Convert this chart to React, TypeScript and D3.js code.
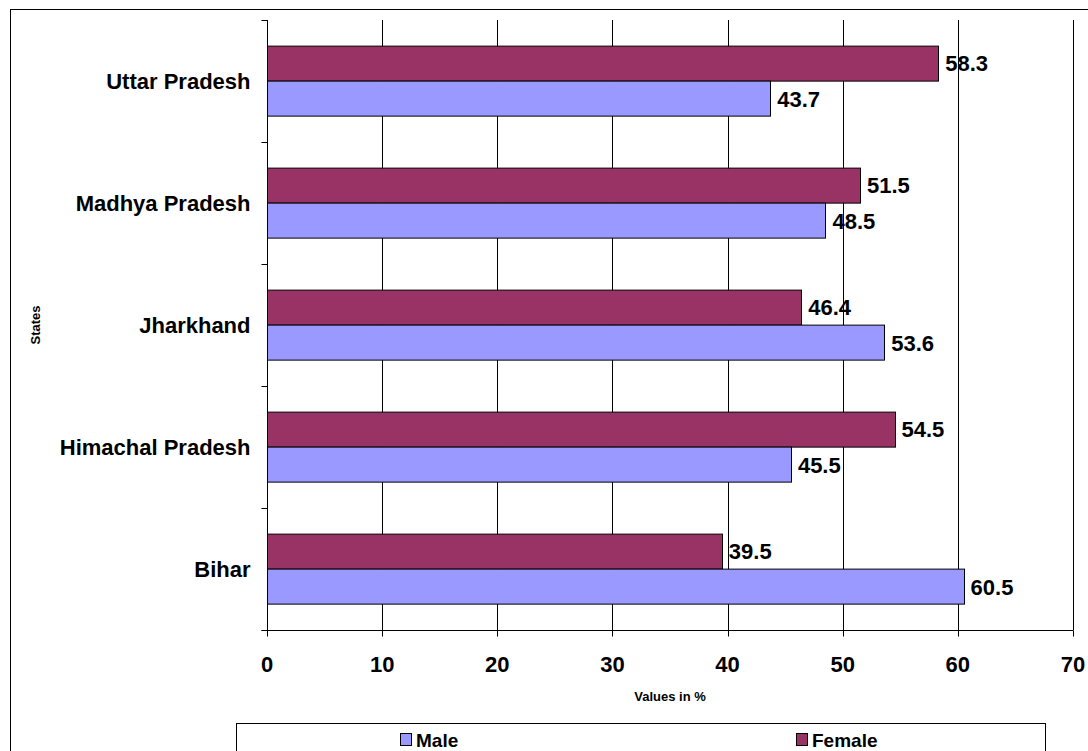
import React, { useEffect, useRef } from "react";
import * as d3 from "d3";

const states = ["Uttar Pradesh", "Madhya Pradesh", "Jharkhand", "Himachal Pradesh", "Bihar"];
const maleValues = [43.7, 48.5, 53.6, 45.5, 60.5];
const femaleValues = [58.3, 51.5, 46.4, 54.5, 39.5];
const xTicks = [0, 10, 20, 30, 40, 50, 60, 70];
const seriesNames = ["Male", "Female"];
const seriesColors = ["#9999FF", "#993366"];

const W = 1088;
const H = 751;
const FONT = "'Liberation Sans', Arial, sans-serif";

const App = () => {
  const ref = useRef(null);

  useEffect(() => {
    const svg = d3.select(ref.current);
    svg.selectAll("*").remove();

    const margin = { top: 20, left: 267, right: 15, bottom: 121 };
    const x0 = margin.left;
    const x1 = W - margin.right;
    const y0 = margin.top;
    const y1 = H - margin.bottom;

    // outer chart border (right/bottom edges fall outside the picture)
    svg
      .append("rect")
      .attr("x", 10.5)
      .attr("y", 9.5)
      .attr("width", W + 20)
      .attr("height", H + 20)
      .attr("fill", "#fff")
      .attr("stroke", "#000");

    const x = d3.scaleLinear().domain([0, 70]).range([x0, x1]);
    const y = d3
      .scaleBand()
      .domain(states)
      .range([y0, y1])
      .paddingInner(0.42)
      .paddingOuter(0.21);
    const sub = d3.scaleBand().domain(["Female", "Male"]).range([0, y.bandwidth()]);
    const px = (v: number) => Math.round(x(v)) + 0.5;

    const g = svg.append("g");

    // vertical gridlines
    g.selectAll(".grid")
      .data(xTicks.slice(1))
      .enter()
      .append("line")
      .attr("x1", (d) => px(d))
      .attr("x2", (d) => px(d))
      .attr("y1", y0)
      .attr("y2", y1)
      .attr("stroke", "#000")
      .attr("stroke-width", 1);

    // bars
    const rows = states.map((s, i) => ({ s, male: maleValues[i], female: femaleValues[i] }));
    const grp = g
      .selectAll(".row")
      .data(rows)
      .enter()
      .append("g")
      .attr("transform", (d) => `translate(0,${y(d.s)})`);

    const drawSeries = (key: "male" | "female", name: string, color: string) => {
      grp
        .append("rect")
        .attr("x", px(0))
        .attr("y", Math.round(sub(name)) + 0.5)
        .attr("width", (d) => px(d[key]) - px(0))
        .attr("height", Math.round(sub.bandwidth()))
        .attr("fill", color)
        .attr("stroke", "#000")
        .attr("stroke-width", 1);
      grp
        .append("text")
        .attr("x", (d) => x(d[key]) + 7)
        .attr("y", sub(name) + sub.bandwidth() / 2)
        .attr("dy", "0.36em")
        .attr("font-family", FONT)
        .attr("font-weight", "bold")
        .attr("font-size", 22)
        .attr("fill", "#000")
        .text((d) => d[key].toFixed(1));
    };
    drawSeries("female", "Female", seriesColors[1]);
    drawSeries("male", "Male", seriesColors[0]);

    // y axis line + ticks at band boundaries
    g.append("line")
      .attr("x1", px(0))
      .attr("x2", px(0))
      .attr("y1", y0)
      .attr("y2", y1)
      .attr("stroke", "#000");
    const step = y.step();
    g.selectAll(".ytick")
      .data(d3.range(states.length + 1))
      .enter()
      .append("line")
      .attr("x1", px(0) - 6)
      .attr("x2", px(0))
      .attr("y1", (i) => Math.round(y0 + i * step) + 0.5)
      .attr("y2", (i) => Math.round(y0 + i * step) + 0.5)
      .attr("stroke", "#000");

    // category labels
    g.selectAll(".ylab")
      .data(states)
      .enter()
      .append("text")
      .attr("x", px(0) - 17)
      .attr("y", (d) => y(d) + y.bandwidth() / 2)
      .attr("dy", "0.36em")
      .attr("text-anchor", "end")
      .attr("font-family", FONT)
      .attr("font-weight", "bold")
      .attr("font-size", 22)
      .text((d) => d);

    // x axis
    const xAxis = g.append("g").attr("transform", `translate(0,${Math.round(y1) + 0.5})`);
    xAxis
      .append("line")
      .attr("x1", px(0) - 6)
      .attr("x2", px(70))
      .attr("stroke", "#000");
    xAxis
      .selectAll(".xtick")
      .data(xTicks)
      .enter()
      .append("line")
      .attr("x1", (d) => px(d))
      .attr("x2", (d) => px(d))
      .attr("y1", 0)
      .attr("y2", 6)
      .attr("stroke", "#000");
    xAxis
      .selectAll(".xlab")
      .data(xTicks)
      .enter()
      .append("text")
      .attr("x", (d) => x(d))
      .attr("y", 41)
      .attr("text-anchor", "middle")
      .attr("font-family", FONT)
      .attr("font-weight", "bold")
      .attr("font-size", 22)
      .text((d) => d);

    // axis titles
    svg
      .append("text")
      .attr("x", (x0 + x1) / 2)
      .attr("y", 701)
      .attr("text-anchor", "middle")
      .attr("font-family", FONT)
      .attr("font-weight", "bold")
      .attr("font-size", 13)
      .text("Values in %");
    svg
      .append("text")
      .attr("transform", `translate(40,${(y0 + y1) / 2}) rotate(-90)`)
      .attr("text-anchor", "middle")
      .attr("font-family", FONT)
      .attr("font-weight", "bold")
      .attr("font-size", 13)
      .text("States");

    // legend
    const lg = svg.append("g");
    lg.append("rect")
      .attr("x", 236.5)
      .attr("y", 723.5)
      .attr("width", 809)
      .attr("height", 40)
      .attr("fill", "#fff")
      .attr("stroke", "#000");
    const legendX = [400, 796];
    seriesNames.forEach((name, i) => {
      lg.append("rect")
        .attr("x", legendX[i] + 0.5)
        .attr("y", 733.5)
        .attr("width", 11)
        .attr("height", 12)
        .attr("fill", seriesColors[i])
        .attr("stroke", "#000");
      lg.append("text")
        .attr("x", legendX[i] + 16)
        .attr("y", 740)
        .attr("dy", "0.36em")
        .attr("font-family", FONT)
        .attr("font-weight", "bold")
        .attr("font-size", 19)
        .text(name);
    });
  }, []);

  return (
    <svg
      ref={ref}
      width={W}
      height={H}
      style={{ position: "absolute", left: 0, top: 0, background: "#fff" }}
    />
  );
};

export default App;
